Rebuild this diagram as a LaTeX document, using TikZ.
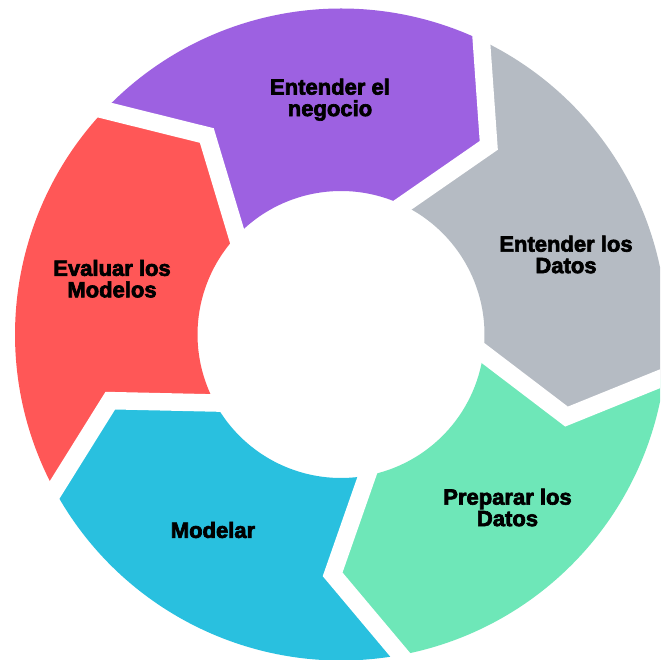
\documentclass[tikz,border=0pt]{standalone}
\usepackage{fontspec}
\setmainfont{Liberation Sans}[BoldFeatures={FakeBold=3}]
\usetikzlibrary{calc}

\definecolor{segpurple}{HTML}{9D61E1}
\definecolor{seggray}{HTML}{B5BBC3}
\definecolor{seggreen}{HTML}{6EE7B8}
\definecolor{segblue}{HTML}{29C0DF}
\definecolor{segred}{HTML}{FF5757}

\tikzset{
  gapline/.style={draw=white, line width=17.5pt, line join=miter, miter limit=10},
  steptext/.style={inner sep=0pt, align=center, text=black,
    font=\bfseries\fontsize{22}{21.5}\selectfont},
}

% ring geometry (pt)
\def\Rout{326pt}
\def\Rin{143.5pt}
\def\Rtip{240pt}

\begin{document}
\begin{tikzpicture}
\useasboundingbox (0,0) rectangle (660pt,660pt);
\clip (0,0) rectangle (660pt,660pt);
\fill[white] (0,0) rectangle (660pt,660pt);

\begin{scope}[shift={(341pt,325.5pt)}]
  % five arrow-shaped sectors, running clockwise
  \foreach \a/\c in {136.5/segpurple, 64.5/seggray, -7.5/seggreen, -79.5/segblue, -151.5/segred}{
    \pgfmathsetmacro\b{\a-72}
    \pgfmathsetmacro\bt{\a-84.5}
    \pgfmathsetmacro\at{\a-12.5}
    \fill[\c] (\a:\Rout) arc[start angle=\a, end angle=\b, radius=\Rout]
      -- (\bt:\Rtip) -- (\b:\Rin)
      arc[start angle=\b, end angle=\a, radius=\Rin]
      -- (\at:\Rtip) -- cycle;
  }
  % white chevron gaps between neighbouring sectors
  \foreach \a in {136.5, 64.5, -7.5, -79.5, -151.5}{
    \pgfmathsetmacro\at{\a-12.5}
    \coordinate (tip) at (\at:\Rtip);
    \draw[gapline] ($(tip)!1.35!(\a:\Rout)$) -- (tip) -- ($(tip)!1.4!(\a:\Rin)$);
  }
\end{scope}

\node[steptext] (negocio) at (330pt,560.3pt) {Entender el\\negocio};
\node[steptext] (datos)   at (566pt,405.5pt) {Entender los\\Datos};
\node[steptext] (preparar) at (507.5pt,152.5pt) {Preparar los\\Datos};
\node[steptext] (modelar) at (213pt,130pt) {Modelar};
\node[steptext] (evaluar) at (112pt,381.3pt) {Evaluar los\\Modelos};
\end{tikzpicture}
\end{document}
